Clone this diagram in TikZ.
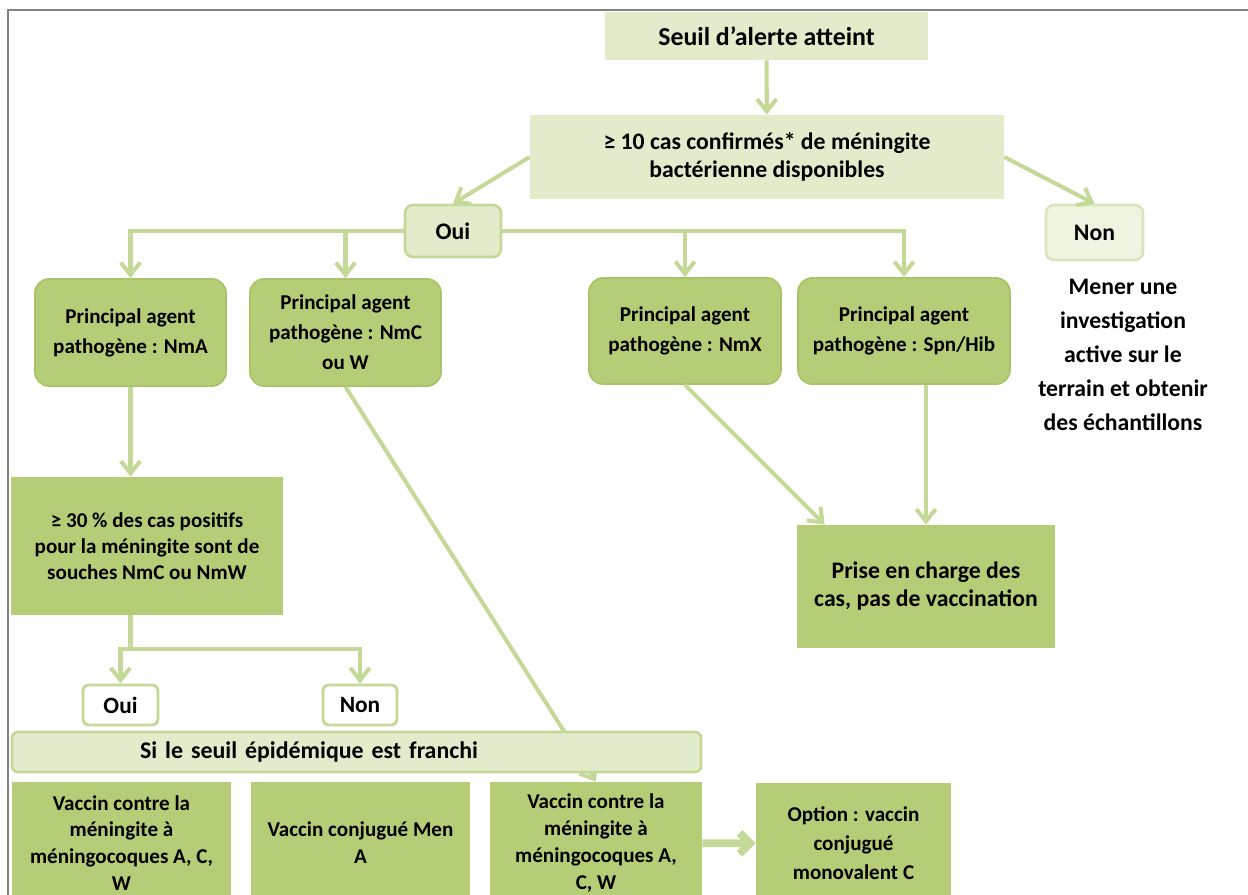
\documentclass[tikz,border=0pt]{standalone}
\usepackage{fontspec}
\setmainfont{Carlito}
\usetikzlibrary{arrows.meta}

\definecolor{palegreen}{RGB}{226,236,202}
\definecolor{leafgreen}{RGB}{181,205,118}
\definecolor{leafedge}{RGB}{168,196,102}
\definecolor{linkgreen}{RGB}{196,217,152}
\definecolor{framegray}{RGB}{130,130,130}

\begin{document}
\begin{tikzpicture}[x=0.02cm, y=-0.02cm,
  sz/.style 2 args={minimum width=#1*0.02cm, minimum height=#2*0.02cm},
  every node/.style={shape=rectangle, align=center, inner sep=0pt, font=\bfseries},
  pale/.style={fill=palegreen},
  leaf/.style={fill=leafgreen},
  agent/.style={leaf, draw=leafedge, line width=1pt, rounded corners=0.28cm,
    font=\bfseries\fontsize{12}{17}\selectfont},
  answer/.style={fill=palegreen, draw=linkgreen, line width=1.5pt, rounded corners=0.16cm,
    font=\bfseries\fontsize{13.5}{16}\selectfont},
  tag/.style={fill=white, draw=linkgreen, line width=1.7pt, rounded corners=0.12cm,
    font=\bfseries\fontsize{13.3}{16}\selectfont},
  vaccine/.style={leaf, font=\bfseries\fontsize{12}{15.3}\selectfont},
  link/.style={draw=linkgreen, line width=2.3pt, -{Straight Barb[length=7pt,width=11pt]}}]
  \useasboundingbox (0,0) rectangle (1248,895);
  \draw[framegray, line width=1.2pt] (8,905) |- (1260,10);

  \node[pale, sz={323}{48}, font=\bfseries\fontsize{14.7}{17}\selectfont] (seuil) at (766.5,36)
    {Seuil d’alerte atteint};
  \node[pale, sz={474}{84}, font=\bfseries\fontsize{13.5}{15.9}\selectfont] (cas) at (767,157)
    {≥ 10 cas confirmés* de méningite\\bactérienne disponibles};
  \node[answer, sz={96}{52}] (oui) at (453,231) {Oui};
  \node[answer, sz={97}{55}, fill=palegreen!60, draw=palegreen!70!linkgreen] (non) at (1094.5,232.5) {Non};

  \node[agent, sz={191}{107}] (nmA) at (130.5,332.5) {Principal agent\\pathogène : NmA};
  \node[agent, sz={191}{107}] (nmC) at (345.5,332.5) {Principal agent\\pathogène : NmC\\ou W};
  \node[agent, sz={192}{106}] (nmX) at (685,331) {Principal agent\\pathogène : NmX};
  \node[agent, sz={212}{106}] (spn) at (904,331) {Principal agent\\pathogène : Spn/Hib};
  \node[font=\bfseries\fontsize{13.5}{19.3}\selectfont] (mener) at (1123,355)
    {Mener une\\investigation\\active sur le\\terrain et obtenir\\des échantillons};

  \node[leaf, sz={272}{138}, font=\bfseries\fontsize{12}{14.7}\selectfont] (pct) at (147,546)
    {≥ 30 \% des cas positifs\\pour la méningite sont de\\souches NmC ou NmW};
  \node[leaf, sz={258}{123}, font=\bfseries\fontsize{13.5}{15.9}\selectfont] (prise) at (926,586.5)
    {Prise en charge des\\cas, pas de vaccination};
  \node[tag, sz={75}{40}] (oui2) at (120.5,705) {Oui};
  \node[tag, sz={74}{40}] (non2) at (360,705) {Non};

  \node[vaccine, sz={219}{122}] (v1) at (121.5,843) {Vaccin contre la\\méningite à\\méningocoques A, C,\\W};
  \node[vaccine, sz={219}{122}] (v2) at (360.5,843) {Vaccin conjugué Men\\A};
  \node[vaccine, sz={212}{122}] (v3) at (596,843) {Vaccin contre la\\méningite à\\méningocoques A,\\C, W};
  \node[vaccine, sz={195}{121}, font=\bfseries\fontsize{12}{16.5}\selectfont] (v4) at (853.5,843.5)
    {Option : vaccin\\conjugué\\monovalent C};

  \draw[link] (seuil) -- (cas);
  \draw[link] (cas.west) -- (oui.north);
  \draw[link] (cas.east) -- (non.north);
  \draw[link] (oui.west) -| (nmA.north);
  \draw[link] (oui.west) -| (nmC.north);
  \draw[link] (oui.east) -| (nmX.north);
  \draw[link] (oui.east) -| (spn.north);
  \draw[link] (nmA.south) -- (nmA.south |- pct.north);
  \coordinate (split) at (130.5,649);
  \draw[link, -] (nmA.south |- pct.south) -- (split);
  \draw[link] (split) -| (oui2.north);
  \draw[link] (split) -| (non2.north);
  \draw[link] (nmC.south) -- (v3.north);
  \draw[link] (nmX.south) -- ([xshift=0.56cm]prise.north west);
  \draw[link] (prise.north |- spn.south) -- (prise.north);
  \draw[link, line width=4.5pt, -{Straight Barb[length=6pt,width=12pt]}] (v3) -- (v4);

  \node[fill=palegreen, draw=linkgreen, line width=1.5pt, rounded corners=0.12cm,
    sz={689}{40}, text width=13.78cm, align=left,
    font=\bfseries\fontsize{13.6}{16}\selectfont] (epi) at (356.5,752)
    {\hspace*{2.56cm}Si le seuil épidémique est franchi};
\end{tikzpicture}
\end{document}
